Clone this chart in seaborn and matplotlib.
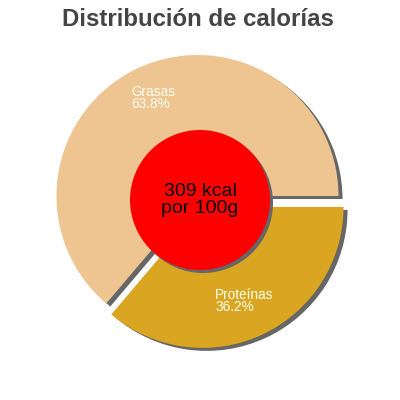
import matplotlib
matplotlib.use("Agg")
import matplotlib.pyplot as plt
import seaborn as sns
from matplotlib.patches import Circle

title = "Distribución de calorías"
categories = ["Grasas", "Proteínas"]
percentages = [63.8, 36.2]
center_lines = ["309 kcal", "por 100g"]
colors = ["#EEC591", "#DAA520"]
shadow_color = "#666666"

sns.set_style("white")
plt.rcParams['font.family'] = ['Liberation Sans', 'DejaVu Sans']

fig = plt.figure(figsize=(4, 4), dpi=100)
ax = fig.add_axes([0, 0, 1, 1])

R = 141
cx, cy = 197.5, 204
explode = [0, 12]

# shadow
ax.pie(percentages, colors=[shadow_color] * 2, startangle=0, counterclock=True,
       radius=R, center=(cx + 4, cy - 3), explode=explode, frame=True,
       wedgeprops=dict(linewidth=0))
wedges, _ = ax.pie(percentages, colors=colors, startangle=0, counterclock=True,
                   radius=R, center=(cx, cy), explode=explode, frame=True,
                   wedgeprops=dict(linewidth=0))
ax.set_xlim(0, 400)
ax.set_ylim(0, 400)
ax.set_aspect('equal')
ax.axis('off')

# center circle
ax.add_patch(Circle((203, 197), 70, color=shadow_color, lw=0, zorder=5))
ax.add_patch(Circle((200, 200), 70, color="#FF0000", lw=0, zorder=6))
ax.text(200, 200, "\n".join(center_lines), ha='center', va='center', fontsize=14,
        color='black', zorder=7, linespacing=0.95)

label_pos = [(131, 400 - 98), (215, 400 - 301)]
for (x, y), c, p in zip(label_pos, categories, percentages):
    ax.text(x, y, f"{c}\n{p}%", ha='left', va='center', fontsize=9.8, color='#FFFFF0',
            linespacing=0.85, zorder=4)

fig.text(0.495, 1 - 19 / 400, title, ha='center', va='center', fontsize=17.3,
         fontweight='bold', color='#444444')

fig.savefig("out.png", dpi=100)
